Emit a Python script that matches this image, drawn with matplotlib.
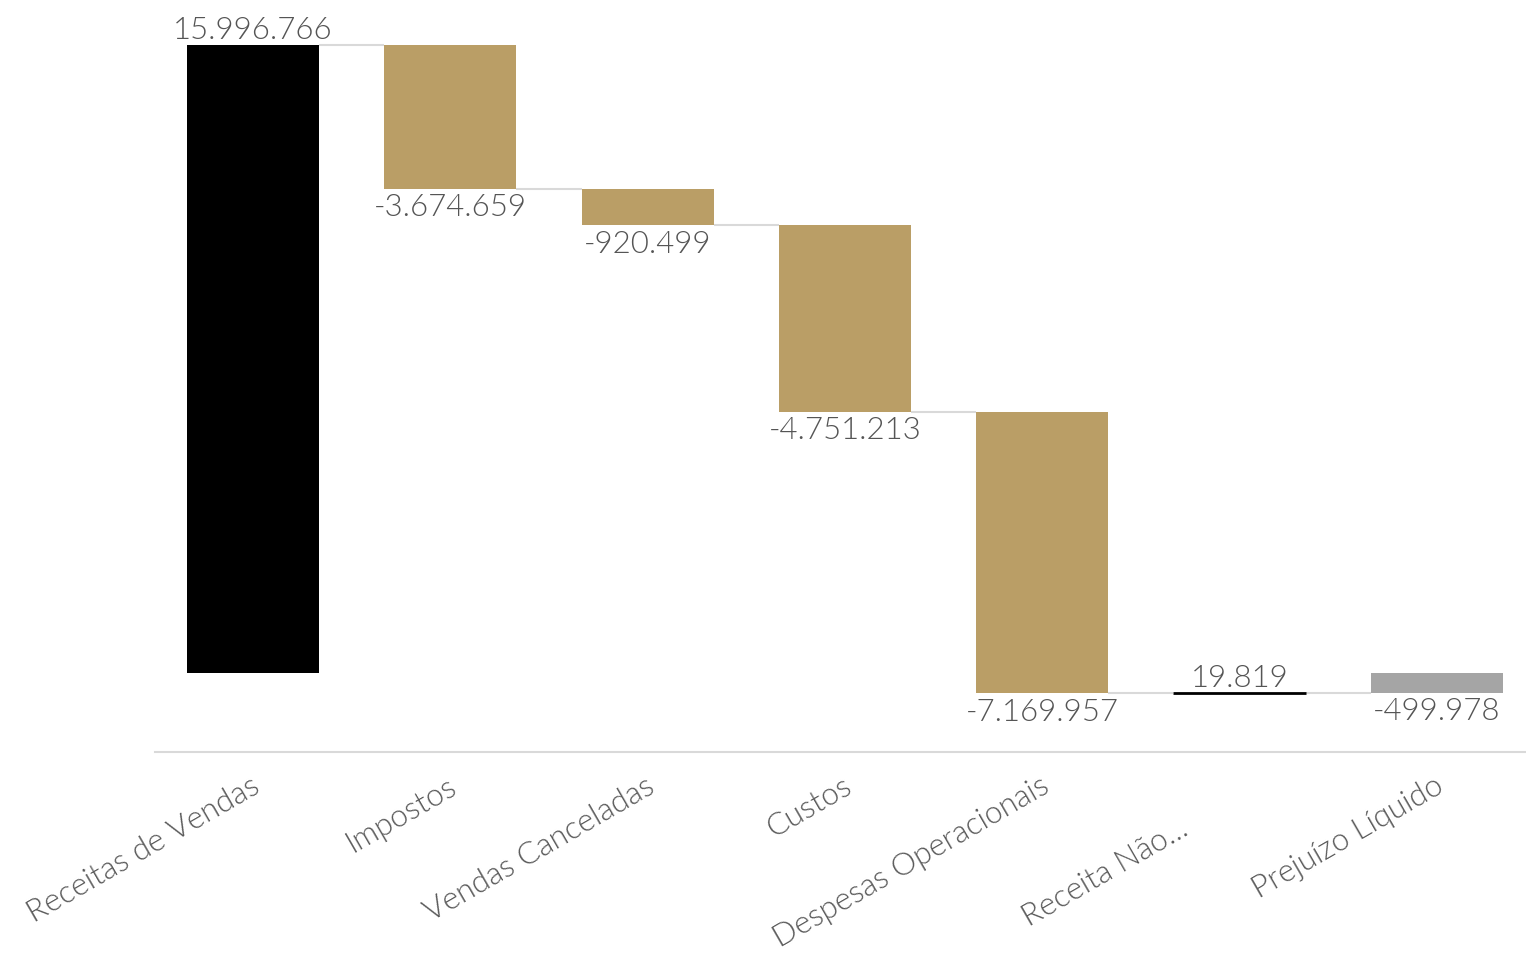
import matplotlib
matplotlib.use("Agg")
import matplotlib.pyplot as plt

categories = ["Receitas de Vendas", "Impostos", "Vendas Canceladas", "Custos",
              "Despesas Operacionais", "Receita Não...", "Prejuízo Líquido"]
values = [15996766, -3674659, -920499, -4751213, -7169957, 19819, -499978]
kinds = ["delta", "delta", "delta", "delta", "delta", "delta", "total"]
value_labels = ["15.996.766", "-3.674.659", "-920.499", "-4.751.213",
                "-7.169.957", "19.819", "-499.978"]

C_UP = "#000000"
C_DOWN = "#BA9E66"
C_TOTAL = "#A5A5A5"
C_CONN = "#D9D9D9"
C_TEXT = "#555555"
C_CAT = "#595959"
FONT = ["Lato", "DejaVu Sans"]
W = 300

fig = plt.figure(figsize=(15.26, 9.55), dpi=100)
ax = fig.add_axes([155 / 1526, 1 - 752 / 955, 1 - 155 / 1526, 752 / 955])

width = 0.67
running = 0.0
levels = []
for i, (v, k) in enumerate(zip(values, kinds)):
    if k == "total":
        bottom, height = 0.0, v
        color = C_TOTAL
        running = v
    else:
        bottom, height = running, v
        color = C_UP if v >= 0 else C_DOWN
        running += v
    ax.bar(i, height, bottom=bottom, width=width, color=color,
           edgecolor=color, linewidth=2 if abs(v) < 100000 else 0, zorder=3)
    levels.append(running)
    top = max(bottom, bottom + height)
    low = min(bottom, bottom + height)
    if v >= 0:
        ax.annotate(value_labels[i], xy=(i, top), xytext=(0, 0),
                    textcoords="offset points", ha="center", va="bottom",
                    fontsize=22.5, color=C_TEXT, family=FONT, fontweight=W,
                    annotation_clip=False)
    else:
        ax.annotate(value_labels[i], xy=(i, low), xytext=(0, -3),
                    textcoords="offset points", ha="center", va="top",
                    fontsize=22.5, color=C_TEXT, family=FONT, fontweight=W,
                    annotation_clip=False)

# connectors
for i in range(len(values) - 1):
    ax.plot([i + width / 2, i + 1 - width / 2], [levels[i], levels[i]],
            color=C_CONN, linewidth=1.5, zorder=2, solid_capstyle="butt")

ax.set_xlim(-0.497, 6.452)
ax.set_ylim(-2.012e6, 17.143e6)

for s in ["top", "right", "left"]:
    ax.spines[s].set_visible(False)
ax.spines["bottom"].set_color(C_CONN)
ax.spines["bottom"].set_linewidth(1.5)
ax.set_xticks([])
ax.set_yticks([])

offsets = [(-2, -14)] * 7
offsets[5] = (-44, -45)
for i, lab in enumerate(categories):
    dx, dy = offsets[i]
    ax.annotate(lab, xy=(i, 0), xycoords=("data", "axes fraction"),
                xytext=(dx, dy), textcoords="offset points",
                rotation=30, rotation_mode="anchor", ha="right", va="top",
                fontsize=22.5, color=C_CAT, family=FONT, fontweight=W,
                annotation_clip=False)

fig.savefig("out.png", dpi=100)
